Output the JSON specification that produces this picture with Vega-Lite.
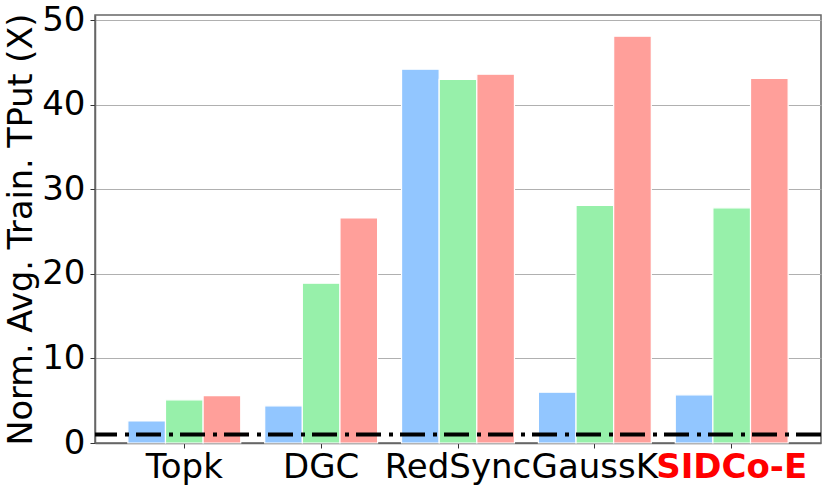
{
  "$schema": "https://vega.github.io/schema/vega-lite/v6.json",
  "width": 726,
  "height": 428,
  "autosize": {"type": "none"},
  "padding": {"left": 95, "top": 15, "right": 9, "bottom": 48},
  "background": "white",
  "config": {
    "font": "DejaVu Sans",
    "view": {"stroke": "#666666", "strokeWidth": 1.5}
  },
  "datasets": {
    "bars": [
      {"method": "Topk", "series": "A", "value": 2.6},
      {"method": "Topk", "series": "B", "value": 5.1},
      {"method": "Topk", "series": "C", "value": 5.6},
      {"method": "DGC", "series": "A", "value": 4.4},
      {"method": "DGC", "series": "B", "value": 18.9},
      {"method": "DGC", "series": "C", "value": 26.6},
      {"method": "RedSync", "series": "A", "value": 44.2},
      {"method": "RedSync", "series": "B", "value": 43.0},
      {"method": "RedSync", "series": "C", "value": 43.6},
      {"method": "GaussK", "series": "A", "value": 6.0},
      {"method": "GaussK", "series": "B", "value": 28.1},
      {"method": "GaussK", "series": "C", "value": 48.1},
      {"method": "SIDCo-E", "series": "A", "value": 5.7},
      {"method": "SIDCo-E", "series": "B", "value": 27.8},
      {"method": "SIDCo-E", "series": "C", "value": 43.1}
    ],
    "baseline": [{"y": 1}]
  },
  "layer": [
    {
      "data": {"name": "bars"},
      "mark": {"type": "bar", "stroke": "white", "strokeWidth": 1.2},
      "encoding": {
        "x": {
          "field": "method",
          "type": "nominal",
          "sort": ["Topk", "DGC", "RedSync", "GaussK", "SIDCo-E"],
          "scale": {"paddingInner": 0.175, "paddingOuter": 0.24},
          "axis": {
            "title": null,
            "labelAngle": 0,
            "labelFontSize": 34,
            "labelPadding": 2,
            "labelOverlap": false,
            "labelColor": {"condition": {"test": "datum.value === 'SIDCo-E'", "value": "#ff0000"}, "value": "black"},
            "labelFontWeight": {"condition": {"test": "datum.value === 'SIDCo-E'", "value": "bold"}, "value": "normal"},
            "domain": true,
            "domainColor": "#666666",
            "domainWidth": 1.5,
            "tickColor": "#333333",
            "tickSize": 5,
            "grid": false
          }
        },
        "xOffset": {
          "field": "series",
          "type": "nominal",
          "scale": {"paddingInner": 0, "paddingOuter": 0}
        },
        "y": {
          "field": "value",
          "type": "quantitative",
          "scale": {"domain": [0, 50.6], "nice": false},
          "axis": {
            "title": "Norm. Avg. Train. TPut (X)",
            "titleFontSize": 33.5,
            "titleFontWeight": "normal",
            "titleColor": "black",
            "titlePadding": 3,
            "values": [0, 10, 20, 30, 40, 50],
            "labelFontSize": 34,
            "labelColor": "black",
            "labelPadding": 5,
            "tickSize": 5,
            "tickColor": "#333333",
            "domainColor": "#666666",
            "domainWidth": 1.5,
            "grid": true,
            "gridColor": "#b0b0b0",
            "gridWidth": 1
          }
        },
        "color": {
          "field": "series",
          "type": "nominal",
          "scale": {"domain": ["A", "B", "C"], "range": ["#92C6FF", "#97F0AA", "#FF9F9A"]},
          "legend": null
        }
      }
    },
    {
      "data": {"name": "baseline"},
      "mark": {"type": "rule", "color": "black", "strokeWidth": 4, "strokeDash": [25, 7, 4, 8]},
      "encoding": {
        "y": {"field": "y", "type": "quantitative"}
      }
    }
  ]
}
